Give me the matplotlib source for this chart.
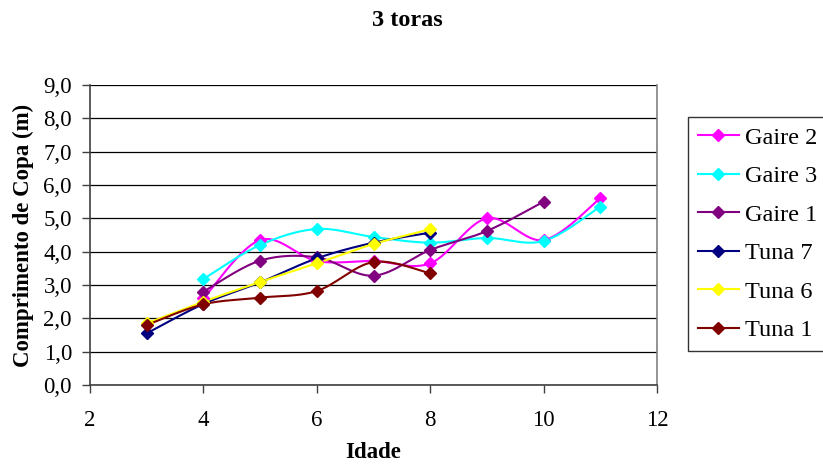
import numpy as np
import matplotlib
matplotlib.use("Agg")
import matplotlib.pyplot as plt
from matplotlib.ticker import FuncFormatter, MultipleLocator

series_names = ["Gaire 2", "Gaire 3", "Gaire 1", "Tuna 7", "Tuna 6", "Tuna 1"]
colors = ["#FF00FF", "#00FFFF", "#800080", "#000080", "#FFFF00", "#800000"]

gaire2_x = [4, 5, 6, 7, 8, 9, 10, 11]
gaire2_y = [2.6, 4.35, 3.72, 3.72, 3.65, 5.0, 4.35, 5.6]
gaire3_x = [4, 5, 6, 7, 8, 9, 10, 11]
gaire3_y = [3.18, 4.2, 4.68, 4.44, 4.27, 4.41, 4.32, 5.35]
gaire1_x = [4, 5, 6, 7, 8, 9, 10]
gaire1_y = [2.8, 3.73, 3.83, 3.28, 4.05, 4.62, 5.5]
tuna7_x = [3, 4, 5, 6, 7, 8]
tuna7_y = [1.55, 2.43, 3.08, 3.8, 4.27, 4.57]
tuna6_x = [3, 4, 5, 6, 7, 8]
tuna6_y = [1.85, 2.5, 3.09, 3.65, 4.23, 4.67]
tuna1_x = [3, 4, 5, 6, 7, 8]
tuna1_y = [1.8, 2.42, 2.62, 2.82, 3.69, 3.35]

xs = [gaire2_x, gaire3_x, gaire1_x, tuna7_x, tuna6_x, tuna1_x]
ys = [gaire2_y, gaire3_y, gaire1_y, tuna7_y, tuna6_y, tuna1_y]

title = "3 toras"
xlabel = "Idade"
ylabel = "Comprimento de Copa (m)"


def smooth(x, y, n=30):
    x = np.asarray(x, float)
    y = np.asarray(y, float)
    px = np.concatenate([[x[0]], x, [x[-1]]])
    py = np.concatenate([[y[0]], y, [y[-1]]])
    outx, outy = [x[0]], [y[0]]
    t = np.linspace(0, 1, n)[1:]
    for i in range(1, len(px) - 2):
        p0 = np.array([px[i], py[i]])
        p3 = np.array([px[i + 1], py[i + 1]])
        c1 = p0 + (np.array([px[i + 1], py[i + 1]]) - np.array([px[i - 1], py[i - 1]])) / 6
        c2 = p3 - (np.array([px[i + 2], py[i + 2]]) - np.array([px[i], py[i]])) / 6
        b = ((1 - t) ** 3)[:, None] * p0 + (3 * (1 - t) ** 2 * t)[:, None] * c1 \
            + (3 * (1 - t) * t ** 2)[:, None] * c2 + (t ** 3)[:, None] * p3
        outx.extend(b[:, 0])
        outy.extend(b[:, 1])
    return np.array(outx), np.array(outy)


serif = ["Liberation Serif", "DejaVu Serif"]
plt.rcParams["font.family"] = serif

fig = plt.figure(figsize=(8.23, 4.65), dpi=100)
ax = fig.add_axes([90 / 823, 80 / 465, (657 - 90) / 823, (385 - 85) / 465])

handles = []
for x, y, c, name in zip(xs, ys, colors, series_names):
    sx, sy = smooth(x, y)
    ax.plot(sx, sy, color=c, lw=1.5, zorder=3)
    ax.plot(x, y, linestyle="none", marker="D", markersize=6.5, color=c,
            markeredgecolor=c, zorder=4)
    h, = ax.plot([], [], color=c, lw=1.5, marker="D", markersize=6.5,
                 markeredgecolor=c)
    handles.append(h)

ax.set_xlim(2, 12)
ax.set_ylim(0, 9)
ax.xaxis.set_major_locator(MultipleLocator(2))
ax.yaxis.set_major_locator(MultipleLocator(1))
ax.yaxis.set_major_formatter(FuncFormatter(lambda v, p: f"{v:.1f}".replace(".", ",")))
ax.grid(axis="y", color="black", lw=0.9, zorder=1)
ax.set_axisbelow(True)
ax.tick_params(axis="both", direction="out", length=6, width=1, labelsize=16.5,
               color="#404040")
ax.tick_params(axis="x", pad=12)
ax.tick_params(axis="y", pad=7)
for s in ["left", "bottom"]:
    ax.spines[s].set_color("#404040")
    ax.spines[s].set_linewidth(1.2)
ax.spines["right"].set_color("#808080")
ax.spines["right"].set_linewidth(1.2)
ax.spines["top"].set_visible(False)

ax.set_xlabel(xlabel, fontsize=16.5, fontweight="bold", labelpad=8)
ax.set_ylabel(ylabel, fontsize=16.5, fontweight="bold", labelpad=7)
fig.text(407 / 823, 1 - 21 / 465, title, fontsize=17.5, fontweight="bold",
         ha="center", va="center")

leg = fig.legend(handles, series_names, loc="upper left",
                 bbox_to_anchor=(688 / 823, 1 - 117 / 465),
                 bbox_transform=fig.transFigure, fontsize=17.5, frameon=True,
                 fancybox=False, edgecolor="black", handlelength=1.7,
                 labelspacing=0.68, borderpad=0.4, handletextpad=0.25,
                 borderaxespad=0)
leg.get_frame().set_linewidth(1.0)

fig.savefig("out.png", dpi=100)
